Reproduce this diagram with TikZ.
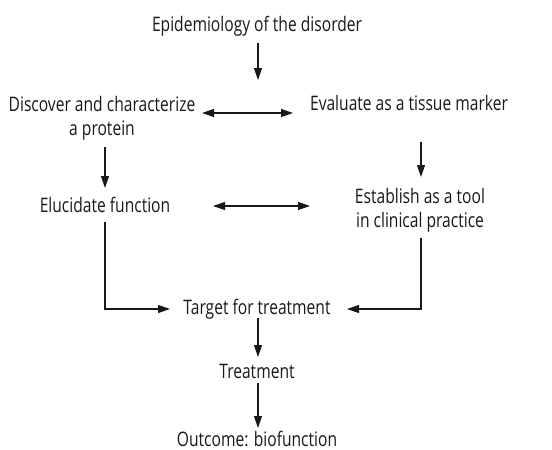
\documentclass[tikz,border=0pt]{standalone}
\usepackage{fontspec}
\setmainfont[FakeStretch=0.78]{Open Sans}
\usetikzlibrary{arrows.meta,calc}
\begin{document}
\begin{tikzpicture}[x=1pt,y=-1pt,
  lbl/.style={inner sep=0pt, anchor=base, font=\fontsize{20}{24}\selectfont, align=center, text=black!90},
  arr/.style={-{Triangle[length=12pt,width=8pt]}, line width=1.15pt, draw=black!90},
  darr/.style={{Triangle[length=12pt,width=8pt]}-{Triangle[length=12pt,width=8pt]}, line width=1.15pt, draw=black!90}]
\useasboundingbox (0,0) rectangle (552,450);
\node[lbl] (epi)  at (257,31)  {Epidemiology of the disorder};
\node[lbl] (disc) at (102,135) {Discover and characterize\\a protein};
\node[lbl] (eval) at (409,110) {Evaluate as a tissue marker};
\node[lbl] (eluc) at (105,212) {Elucidate function};
\node[lbl] (est)  at (420,227) {Establish as a tool\\in clinical practice};
\node[lbl] (tgt)  at (257,314) {Target for treatment};
\node[lbl] (trt)  at (257,378) {Treatment};
\node[lbl] (out)  at (257,446) {Outcome: biofunction};
% arrows
\draw[arr] ($(epi.base)+(1,12)$) -- ($(epi.base)+(1,49)$);
\draw[darr] ($(eval.base)+(-207,3)$) -- ($(eval.base)+(-116,3)$);
\draw[arr] ($(eluc.base)+(0,-65)$) -- ($(eluc.base)+(0,-24)$);
\draw[arr] ($(est.base)+(1,-85)$) -- ($(est.base)+(1,-50)$);
\draw[darr] ($(eluc.base)+(108,-6)$) -- ($(eluc.base)+(205,-6)$);
\draw[arr] ($(eluc.base)+(0,10)$) |- ($(tgt.base)+(-87,-5)$);
\draw[arr] ($(est.base)+(1,11)$) |- ($(tgt.base)+(90,-5)$);
\draw[arr] ($(tgt.base)+(1,4)$) -- ($(trt.base)+(1,-21)$);
\draw[arr] ($(trt.base)+(1,5)$) -- ($(out.base)+(1,-18)$);
\end{tikzpicture}
\end{document}
